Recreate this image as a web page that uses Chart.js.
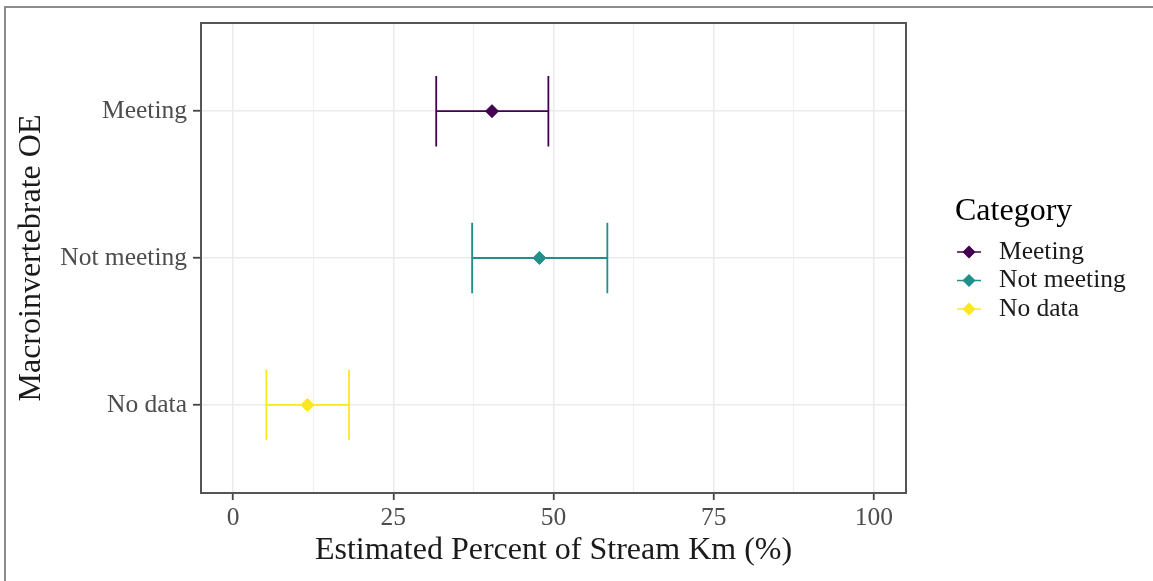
<!DOCTYPE html>
<html>
<head>
<meta charset="utf-8">
<script src="https://cdn.jsdelivr.net/npm/chart.js@4"></script>
<style>
  html, body { margin: 0; padding: 0; background: #ffffff; }
  #wrap { width: 1153px; height: 581px; position: relative; }
  canvas { display: block; }
</style>
</head>
<body>
<div id="wrap"><canvas id="c" width="1153" height="581"></canvas></div>
<script>
// ---- data ----
const categories = ['Meeting', 'Not meeting', 'No data'];
const estimates = [40.4, 47.8, 11.6];
const lowerBounds = [31.7, 37.3, 5.2];
const upperBounds = [49.2, 58.4, 18.1];
const seriesColors = ['#440154', '#21908C', '#FDE725'];
const xTickValues = [0, 12.5, 25, 37.5, 50, 62.5, 75, 87.5, 100];
const xTickLabels = ['0', '', '25', '', '50', '', '75', '', '100'];
const xAxisTitle = 'Estimated Percent of Stream Km (%)';
const yAxisTitle = 'Macroinvertebrate OE';
const legendTitle = 'Category';

// ---- style ----
const SERIF = "'Liberation Serif', 'Times New Roman', serif";
const CAP = 0.24;
const TICK_FONT = 25.5;
const TITLE_FONT = 32;

const pointSets = categories.map((c, i) => ({
  type: 'scatter',
  label: c,
  order: 0,
  data: [{ x: estimates[i], y: i }],
  pointStyle: 'rectRot',
  pointRadius: 6.5,
  backgroundColor: seriesColors[i],
  borderColor: seriesColors[i],
  borderWidth: 1
}));

const barSets = categories.map((c, i) => ({
  type: 'line',
  label: c + ' CI',
  order: 1,
  data: [
    { x: lowerBounds[i], y: i - CAP }, { x: lowerBounds[i], y: i + CAP },
    { x: lowerBounds[i], y: null },
    { x: lowerBounds[i], y: i }, { x: upperBounds[i], y: i },
    { x: upperBounds[i], y: null },
    { x: upperBounds[i], y: i - CAP }, { x: upperBounds[i], y: i + CAP }
  ],
  borderColor: seriesColors[i],
  borderWidth: 1.8,
  pointRadius: 0,
  spanGaps: false,
  tension: 0,
  fill: false
}));

const isMajor = v => xTickLabels[xTickValues.indexOf(v)] !== '';

const decorPlugin = {
  id: 'decor',
  afterDraw(chart) {
    const ctx = chart.ctx;
    const a = chart.chartArea;
    ctx.save();
    // panel border
    ctx.strokeStyle = '#555555';
    ctx.lineWidth = 2;
    ctx.strokeRect(a.left, a.top, a.right - a.left, a.bottom - a.top);
    // outer frame (top and left)
    ctx.strokeStyle = '#8c8c8c';
    ctx.lineWidth = 2;
    ctx.beginPath();
    ctx.moveTo(5, 581); ctx.lineTo(5, 7); ctx.lineTo(1153, 7);
    ctx.stroke();
    // legend
    ctx.fillStyle = '#000000';
    ctx.textBaseline = 'middle';
    ctx.textAlign = 'left';
    ctx.font = TITLE_FONT + 'px ' + SERIF;
    ctx.fillText(legendTitle, 955, 212);
    ctx.font = TICK_FONT + 'px ' + SERIF;
    categories.forEach((c, i) => {
      const y = 252 + i * 28.5;
      ctx.strokeStyle = seriesColors[i];
      ctx.lineWidth = 1.5;
      ctx.beginPath();
      ctx.moveTo(957, y); ctx.lineTo(981, y);
      ctx.stroke();
      ctx.fillStyle = seriesColors[i];
      Chart.helpers.drawPoint(ctx, { pointStyle: 'rectRot', radius: 5.5, borderWidth: 1 }, 969, y);
      ctx.fill();
      ctx.fillStyle = '#1a1a1a';
      ctx.fillText(c, 999, y);
    });
    ctx.restore();
  }
};

new Chart(document.getElementById('c'), {
  type: 'scatter',
  data: { datasets: [...pointSets, ...barSets] },
  plugins: [decorPlugin],
  options: {
    responsive: false,
    animation: false,
    devicePixelRatio: 1,
    events: [],
    layout: { padding: { top: 23, right: 247, bottom: 0, left: 0 } },
    plugins: { legend: { display: false }, tooltip: { enabled: false }, title: { display: false } },
    scales: {
      x: {
        type: 'linear',
        position: 'bottom',
        min: -5,
        max: 105,
        afterBuildTicks: s => { s.ticks = xTickValues.map(v => ({ value: v })); },
        afterFit: s => { s.height = 88; },
        border: { display: false },
        grid: {
          color: '#ebebeb',
          lineWidth: ctx => (ctx.tick && isMajor(ctx.tick.value)) ? 1.5 : 0.8,
          drawTicks: true,
          tickLength: 7,
          tickWidth: 1.8,
          tickColor: ctx => (ctx.tick && isMajor(ctx.tick.value)) ? '#444444' : 'rgba(0,0,0,0)'
        },
        ticks: {
          autoSkip: false,
          maxRotation: 0,
          padding: 3,
          color: '#4d4d4d',
          font: { family: SERIF, size: TICK_FONT },
          callback: v => xTickLabels[xTickValues.indexOf(v)]
        },
        title: {
          display: true,
          text: xAxisTitle,
          color: '#1a1a1a',
          font: { family: SERIF, size: TITLE_FONT },
          padding: { top: 0, bottom: 11.5 }
        }
      },
      y: {
        type: 'linear',
        position: 'left',
        reverse: true,
        min: -0.6,
        max: 2.6,
        afterBuildTicks: s => { s.ticks = categories.map((c, i) => ({ value: i })); },
        afterFit: s => { s.width = 201; },
        border: { display: false },
        grid: {
          color: '#ebebeb',
          lineWidth: 1.5,
          drawTicks: true,
          tickLength: 8,
          tickWidth: 1.8,
          tickColor: '#444444'
        },
        ticks: {
          autoSkip: false,
          padding: 6,
          color: '#4d4d4d',
          font: { family: SERIF, size: TICK_FONT },
          callback: v => categories[v]
        },
        title: {
          display: true,
          text: yAxisTitle,
          color: '#1a1a1a',
          font: { family: SERIF, size: TITLE_FONT },
          padding: { top: 12.8, bottom: 0 }
        }
      }
    }
  }
});
</script>
</body>
</html>
